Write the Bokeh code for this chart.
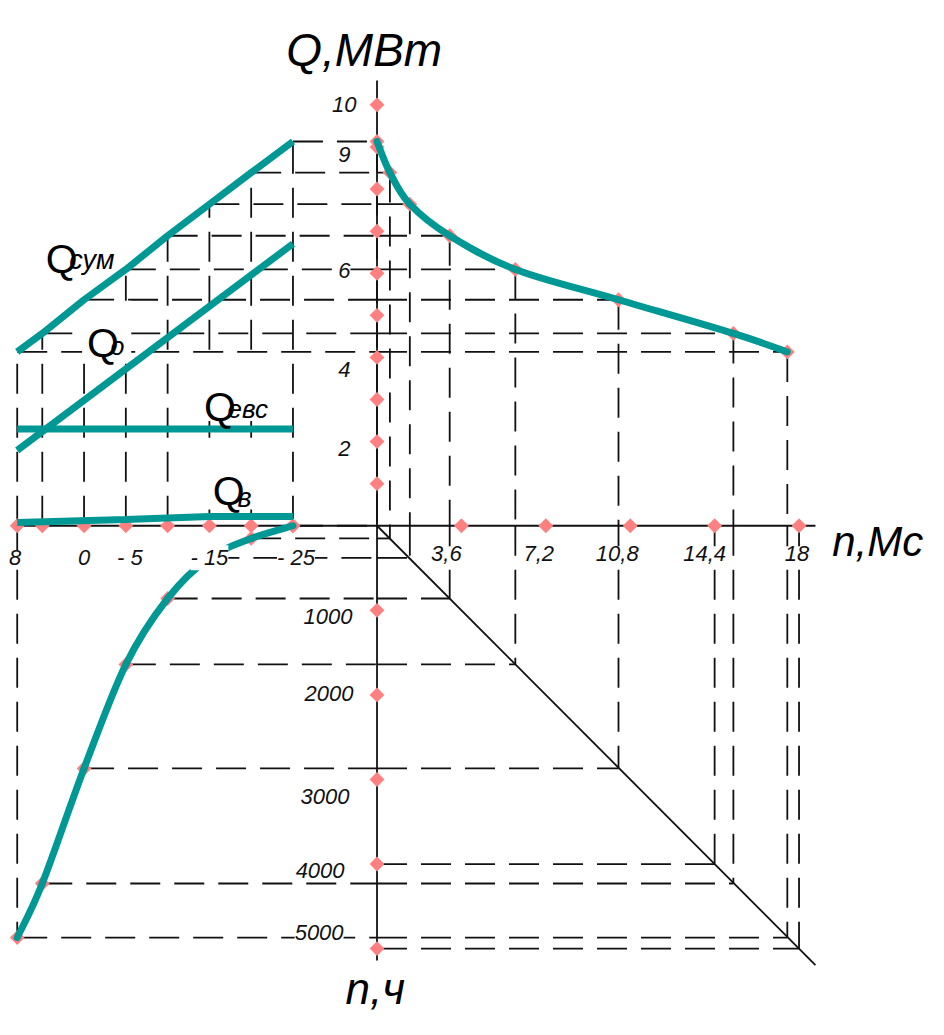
import numpy as np
from bokeh.plotting import figure
from bokeh.models import Range1d, ColumnDataSource, LabelSet, Label
from bokeh.core.properties import value
from bokeh.embed import file_html
from bokeh.resources import INLINE

# ---------------- data ----------------
temps = [8, 5, 0, -5, -10, -15, -20, -25]                 # outdoor temperature, °C
q_sum = [4.13, 4.57, 5.37, 6.09, 6.89, 7.64, 8.39, 9.13]  # Q сум, MW
hours = [4870, 4230, 2870, 1640, 860, 380, 150, 0]        # duration, h
n_ms = [17.5, 15.2, 10.3, 5.9, 3.1, 1.4, 0.55, 0.0]       # duration, Ms

q_o_t = [8, -25]
q_o = [1.79, 6.70]
q_evs_t = [8, -25]
q_evs = [2.30, 2.30]
q_v_t = [8, -5, -15, -25]
q_v = [0.08, 0.15, 0.22, 0.22]

q_ticks = [1, 2, 3, 4, 5, 6, 7, 8, 9, 10]
q_label_vals = [10, 9, 6, 4, 2]
q_tick_labels = ["10", "9", "6", "4", "2"]
n_ticks = [3.6, 7.2, 10.8, 14.4, 18.0]
n_tick_labels = ["3,6", "7,2", "10,8", "14,4", "18"]
t_label_vals = [8, 0, -5, -15, -25]
t_tick_labels = ["8", "0", "- 5", "- 15", "- 25"]
h_ticks = [1000, 2000, 3000, 4000, 5000]
h_tick_labels = ["1000", "2000", "3000", "4000", "5000"]
proj_n = [14.4, 18.0]
proj_h = [4000, 5000]
diag_n = [0.0, 18.7]
diag_h = [0.0, 5194]
q_axis_top = 10.58
h_axis_bottom = 5140
n_axis_end = 18.7

# ---------------- layout ----------------
W, H = 928, 1019
# the frame spans a 944 x 1035 layout grid (reference pixel grid)
L, R, T, B = 0, 944, 0, 1035
X0, Y0 = 383.0, 533.5           # grid position of the origin
PX_N, PX_Q, PX_H, PX_T = 23.85, 42.75, 0.0859, 8.5
TX8 = 17.0                       # grid x of t = 8 °C

def nx(px): return (px - X0) / PX_N
def qy(py): return (Y0 - py) / PX_Q
def tx(px): return 8 - (px - TX8) / PX_T
def hy(py): return (py - Y0) / PX_H

T_AXIS = tx(X0)

FONT = "Liberation Sans"
TEAL = "#009894"
PINK = "#FF8080"
DASH = "30 14"
INK = "#111111"

p = figure(width=W, height=H,
           x_range=Range1d(nx(L), nx(R)), y_range=Range1d(qy(B), qy(T)),
           x_axis_location=None, y_axis_location=None,
           output_backend="svg", toolbar_location=None, min_border=0)
p.extra_x_ranges = {"t": Range1d(tx(L), tx(R))}
p.extra_y_ranges = {"h": Range1d(hy(B), hy(T))}
p.grid.visible = False
p.outline_line_color = None
p.background_fill_color = "white"
p.border_fill_color = "white"

# ---------------- dashed construction lines ----------------
def seg(x0, y0, x1, y1, **kw):
    p.segment(x0=x0, y0=y0, x1=x1, y1=y1, line_color=INK,
              line_width=1.8, line_dash=DASH, **kw)

N = len(temps)
# upper-left: verticals from the t axis up to Q сум, horizontals towards the Q axis
seg(temps + temps, [0] * N + q_sum, temps + [T_AXIS] * N, q_sum + q_sum, x_range_name="t")
# upper-right: horizontals to the curve and verticals down to the n axis
seg([0] * N + n_ms, q_sum + q_sum, n_ms + n_ms, q_sum + [0] * N)
# lower-right: verticals to the diagonal, horizontals back to the hours axis
seg(n_ms + [0] * N + proj_n + [0] * len(proj_n),
    [0] * N + hours + [0] * len(proj_n) + proj_h,
    n_ms + n_ms + proj_n + proj_n,
    hours + hours + proj_h + proj_h,
    y_range_name="h")
# lower-left: horizontals from the duration curve, and the t = 8 boundary
seg(temps + [temps[0]], hours + [0], [T_AXIS] * N + [temps[0]], hours + [hours[0]],
    x_range_name="t", y_range_name="h")

# ---------------- axes ----------------
AX = dict(line_color=INK, line_width=1.8)
p.line([temps[0], T_AXIS], [0, 0], x_range_name="t", **AX)
p.line([0, n_axis_end], [0, 0], **AX)
p.line([0, 0], [0, q_axis_top], **AX)
p.line([0, 0], [0, h_axis_bottom], y_range_name="h", **AX)
p.line(diag_n, diag_h, y_range_name="h", **AX)

# ---------------- white boxes under the curve names ----------------
boxes = [(42, 118, 217, 277), (83, 133, 305, 362), (203, 278, 368, 427), (210, 263, 455, 517)]
p.quad(left=[tx(b[0]) for b in boxes], right=[tx(b[1]) for b in boxes],
       top=[qy(b[2]) for b in boxes], bottom=[qy(b[3]) for b in boxes],
       x_range_name="t", fill_color="white", line_color=None)

# ---------------- markers ----------------
MK = dict(marker="square", angle=np.pi / 4, size=10.5, fill_color=PINK, line_color=None)
p.scatter([0] * len(q_ticks), q_ticks, **MK)
p.scatter(n_ticks, [0] * len(n_ticks), **MK)
p.scatter(temps, [0] * N, x_range_name="t", **MK)
p.scatter([0] * len(h_ticks), h_ticks, y_range_name="h", **MK)
p.scatter(n_ms, q_sum, **MK)
p.scatter(temps, hours, x_range_name="t", y_range_name="h", **MK)

# ---------------- teal lines ----------------
TL = dict(line_color=TEAL, line_width=7)
p.line(temps, q_sum, x_range_name="t", line_cap="butt", **TL)
p.line(q_o_t, q_o, x_range_name="t", line_cap="butt", **TL)
p.line(q_evs_t, q_evs, x_range_name="t", line_cap="butt", **TL)
p.line(q_v_t, q_v, x_range_name="t", line_cap="butt", **TL)


def smooth(xs, ys):
    k = len(xs)
    d = dict(x0=[], y0=[], x1=[], y1=[], cx0=[], cy0=[], cx1=[], cy1=[])
    for i in range(k - 1):
        a, b = max(i - 1, 0), min(i + 2, k - 1)
        d["x0"].append(xs[i]); d["y0"].append(ys[i])
        d["x1"].append(xs[i + 1]); d["y1"].append(ys[i + 1])
        d["cx0"].append(xs[i] + (xs[i + 1] - xs[a]) / 6)
        d["cy0"].append(ys[i] + (ys[i + 1] - ys[a]) / 6)
        d["cx1"].append(xs[i + 1] - (xs[b] - xs[i]) / 6)
        d["cy1"].append(ys[i + 1] - (ys[b] - ys[i]) / 6)
    return ColumnDataSource(d)


BZ = dict(x0="x0", y0="y0", x1="x1", y1="y1", cx0="cx0", cy0="cy0", cx1="cx1", cy1="cy1",
          line_color=TEAL, line_width=7, line_cap="round")
p.bezier(source=smooth(n_ms, q_sum), **BZ)
p.bezier(source=smooth(temps, hours), x_range_name="t", y_range_name="h", **BZ)

# ---------------- tick labels ----------------
NUM = dict(text_font=value(FONT), text_font_size="22px", text_font_style="italic",
           text_color=INK, text_baseline="middle", background_fill_color="white")

Q_LAB_RIGHT = [362, 356, 356, 356, 356]
Q_LAB_DY = [0, -8, 3, -12, -7]
p.add_layout(LabelSet(x="x", y="y", text="text", y_offset="dy", text_align="right",
                      source=ColumnDataSource(dict(x=[nx(v) for v in Q_LAB_RIGHT], y=q_label_vals,
                                                   text=q_tick_labels, dy=Q_LAB_DY)), **NUM))

N_LAB_DX = [-15, -7, -13, -10, -2]
p.add_layout(LabelSet(x="x", y="y", text="text", x_offset="dx", text_align="center",
                      source=ColumnDataSource(dict(x=n_ticks, y=[qy(562)] * len(n_ticks),
                                                   text=n_tick_labels, dx=N_LAB_DX)), **NUM))

T_LAB_DX = [-2, 0, 4, 0, 3]
p.add_layout(LabelSet(x="x", y="y", text="text", x_offset="dx", text_align="center",
                      x_range_name="t",
                      source=ColumnDataSource(dict(x=t_label_vals, y=[qy(566)] * len(t_label_vals),
                                                   text=t_tick_labels, dx=T_LAB_DX)), **NUM))

H_LAB_RIGHT = [358, 359, 355, 350, 349]
H_LAB_DY = [-6, 1, -17, -6, 16]
p.add_layout(LabelSet(x="x", y="y", text="text", y_offset="dy", text_align="right",
                      y_range_name="h",
                      source=ColumnDataSource(dict(x=[nx(v) for v in H_LAB_RIGHT], y=h_ticks,
                                                   text=h_tick_labels, dy=H_LAB_DY)), **NUM))

# ---------------- axis titles ----------------
TTL = dict(text_font=FONT, text_font_style="italic", text_color="black",
           text_baseline="alphabetic")
p.add_layout(Label(x=nx(370), y=qy(50), text="Q,МВт", text_align="center",
                   text_font_size="46px", **TTL))
p.add_layout(Label(x=nx(846), y=qy(549), text="n,Мс", text_align="left",
                   text_font_size="42px", **TTL))
p.add_layout(Label(x=nx(351), y=hy(1004), text="n,ч", text_align="left",
                   text_font_size="44px", y_range_name="h", **TTL))

# ---------------- curve names ----------------
CN = dict(text_font=FONT, text_color="black", text_baseline="alphabetic",
          text_align="left", x_range_name="t")
names = [("Q", 46, 263, "сум", 70, 264, "27px"),
         ("Q", 88, 348, "о", 112, 351, "25px"),
         ("Q", 207, 413, "евс", 231, 415, "26px"),
         ("Q", 216, 498, "в", 241, 505, "27px")]
for big, bx, by, sub, sx, sy, ss in names:
    p.add_layout(Label(x=tx(bx), y=qy(by), text=big, text_font_size="41px", **CN))
    p.add_layout(Label(x=tx(sx), y=qy(sy), text=sub, text_font_size=ss,
                       text_font_style="italic", **CN))

open("out.html", "w").write(file_html(p, INLINE, "chart"))
